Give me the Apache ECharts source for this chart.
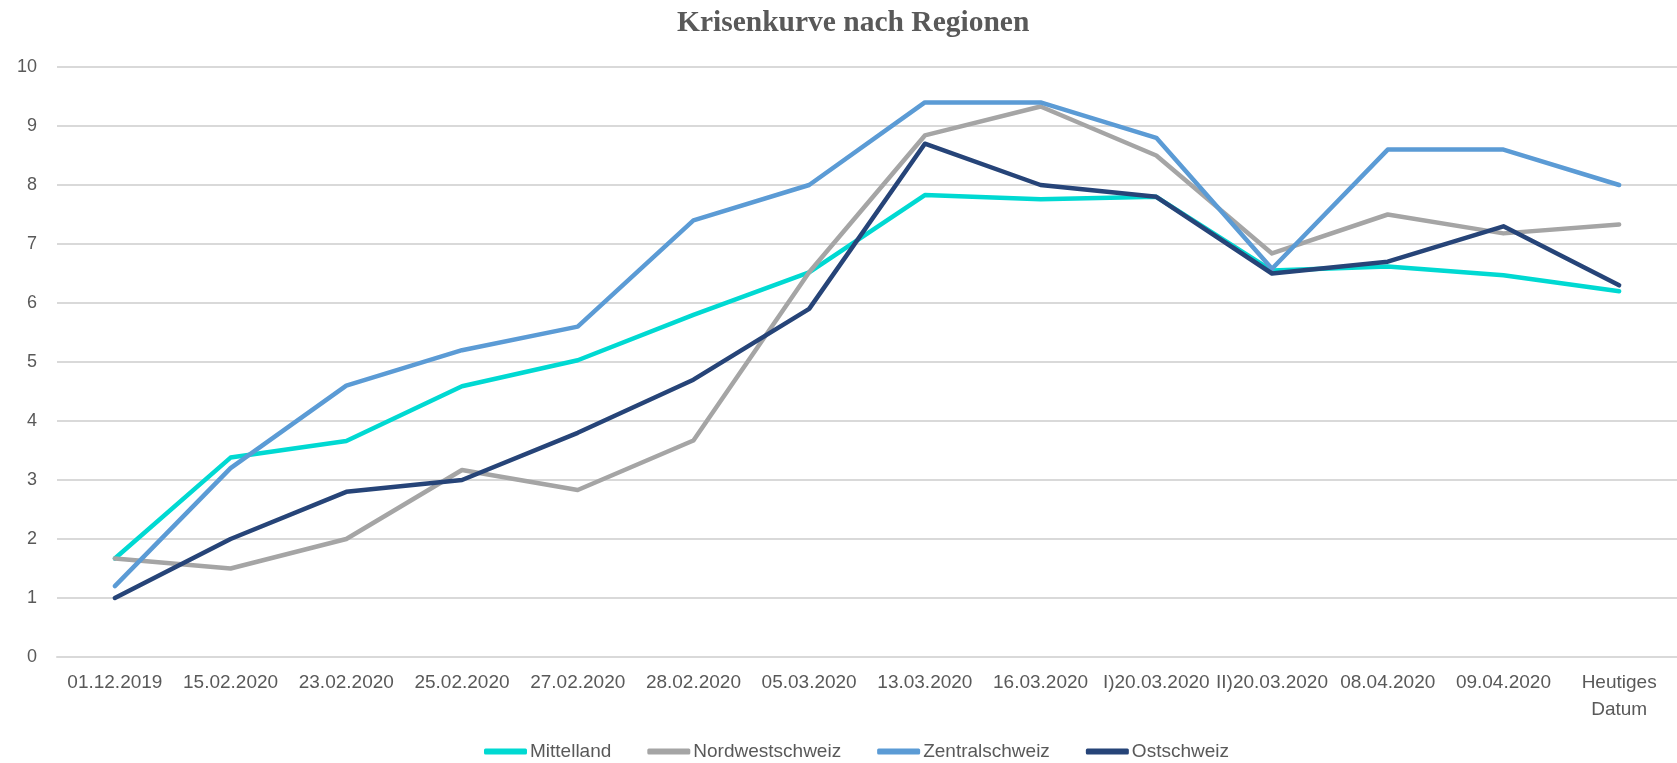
<!DOCTYPE html>
<html>
<head>
<meta charset="utf-8">
<script src="https://cdn.jsdelivr.net/npm/echarts@6/dist/echarts.min.js"></script>
<style>
    html, body { margin: 0; padding: 0; background: #fff; }
    #main { width: 1677px; height: 763px; }
</style>
</head>
<body>
<div id="main"></div>
<script>
// categories of the x axis
var dates = ['01.12.2019', '15.02.2020', '23.02.2020', '25.02.2020', '27.02.2020', '28.02.2020',
    '05.03.2020', '13.03.2020', '16.03.2020', 'I)20.03.2020', 'II)20.03.2020', '08.04.2020',
    '09.04.2020', 'Heutiges\nDatum'];

// values
var mittelland = [1.67, 3.38, 3.66, 4.59, 5.03, 5.8, 6.52, 7.83, 7.76, 7.8, 6.55, 6.62, 6.47, 6.2];
var nordwestschweiz = [1.67, 1.5, 2.0, 3.17, 2.83, 3.67, 6.52, 8.84, 9.33, 8.5, 6.84, 7.5, 7.18, 7.33];
var zentralschweiz = [1.2, 3.2, 4.6, 5.2, 5.6, 7.4, 8.0, 9.4, 9.4, 8.8, 6.58, 8.6, 8.6, 8.0];
var ostschweiz = [1.0, 2.0, 2.8, 3.0, 3.8, 4.7, 5.9, 8.7, 8.0, 7.8, 6.5, 6.7, 7.3, 6.3];

var yTicks = { min: 0, max: 10, interval: 1 };

var chartDom = document.getElementById('main');
var myChart = echarts.init(chartDom);

function lineSeries(name, data, color) {
    return {
        name: name,
        type: 'line',
        data: data,
        showSymbol: false,
        symbol: 'none',
        lineStyle: { width: 4.5, color: color, cap: 'round', join: 'round' },
        itemStyle: { color: color }
    };
}

var option = {
    animation: false,
    title: {
        text: 'Krisenkurve nach Regionen',
        left: 672,
        top: 3,
        textStyle: {
            fontFamily: 'Liberation Serif',
            fontWeight: 'bold',
            fontSize: 29.5,
            color: '#595959'
        }
    },
    legend: {
        bottom: -3,
        left: 479,
        icon: 'roundRect',
        itemWidth: 43,
        itemHeight: 6,
        itemGap: 36,
        textStyle: {
            fontFamily: 'Liberation Sans',
            fontSize: 19,
            color: '#595959',
            padding: [0, 0, 0, -2]
        },
        data: ['Mittelland', 'Nordwestschweiz', 'Zentralschweiz', 'Ostschweiz']
    },
    grid: {
        left: 57,
        right: 0,
        top: 67,
        bottom: 106,
        containLabel: false
    },
    xAxis: {
        type: 'category',
        data: dates,
        boundaryGap: true,
        axisLine: { show: true, lineStyle: { color: '#D9D9D9', width: 2 } },
        axisTick: { show: false },
        axisLabel: {
            interval: 0,
            margin: 12,
            fontFamily: 'Liberation Sans',
            fontSize: 19,
            lineHeight: 27,
            color: '#595959'
        }
    },
    yAxis: {
        type: 'value',
        min: yTicks.min,
        max: yTicks.max,
        interval: yTicks.interval,
        axisLine: { show: false },
        axisTick: { show: false },
        splitLine: { lineStyle: { color: '#D9D9D9', width: 2 } },
        axisLabel: {
            margin: 20,
            fontFamily: 'Liberation Sans',
            fontSize: 18,
            color: '#595959'
        }
    },
    series: [
        lineSeries('Mittelland', mittelland, '#00D9D2'),
        lineSeries('Nordwestschweiz', nordwestschweiz, '#A5A5A5'),
        lineSeries('Zentralschweiz', zentralschweiz, '#5B9BD5'),
        lineSeries('Ostschweiz', ostschweiz, '#264478')
    ]
};

option && myChart.setOption(option);
</script>
</body>
</html>
